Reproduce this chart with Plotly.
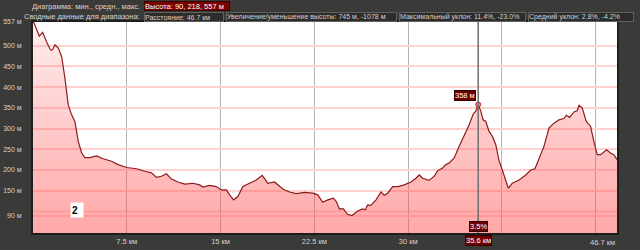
import plotly.graph_objects as go

# distance (km) and elevation (m)
dist_km = [0, 0.08, 0.50, 0.77, 1.09, 1.41, 1.57, 1.76, 2.02, 2.29,
           2.55, 2.82, 3.09, 3.35, 3.62, 3.89, 4.15, 4.55, 5.08, 5.61,
           6.28, 6.81, 7.48, 8.28, 8.94, 9.47, 9.87, 10.27, 10.67, 11.07,
           11.60, 11.77, 12.13, 12.53, 12.79, 13.33, 13.59, 14.13, 14.66, 15.06,
           15.46, 15.72, 16.04, 16.38, 16.78, 17.32, 17.85, 18.33, 18.78, 19.31,
           19.98, 20.51, 21.05, 21.71, 22.37, 22.77, 23.17, 23.57, 24.02, 24.26,
           24.50, 24.82, 25.16, 25.51, 25.96, 26.36, 26.58, 26.76, 27.03, 27.43,
           27.83, 28.09, 28.36, 28.76, 29.16, 29.69, 30.22, 30.62, 30.89, 31.15,
           31.68, 32.08, 32.35, 32.75, 33.02, 33.28, 33.68, 34.08, 34.48, 34.88,
           35.20, 35.41, 35.60, 35.81, 35.99, 36.21, 36.47, 36.74, 37.01, 37.27,
           37.53, 37.81, 38.01, 38.33, 38.87, 39.40, 39.80, 40.14, 40.46, 40.86,
           41.26, 41.66, 42.06, 42.46, 42.64, 42.91, 43.26, 43.52, 43.66, 43.92,
           44.24, 44.59, 44.85, 45.12, 45.39, 45.87, 46.18, 46.45, 46.70]
elev_m = [557, 555, 523, 532, 509, 489, 490, 502, 494, 474,
          422, 357, 333, 317, 269, 241, 230, 230, 234, 227,
          221, 213, 206, 203, 197, 193, 182, 185, 191, 178,
          171, 170, 166, 167, 168, 164, 159, 163, 160, 152,
          152, 140, 128, 136, 160, 168, 176, 187, 168, 171,
          154, 147, 143, 146, 144, 140, 122, 128, 132, 124,
          106, 106, 93, 90, 101, 106, 104, 116, 115, 128,
          147, 139, 144, 160, 160, 164, 171, 180, 188, 180,
          175, 185, 198, 205, 213, 217, 229, 257, 281, 309,
          335, 342, 358, 342, 321, 317, 293, 281, 261, 222,
          200, 172, 156, 168, 176, 188, 200, 203, 229, 257,
          301, 313, 321, 324, 332, 327, 340, 343, 356, 350,
          317, 305, 269, 237, 237, 249, 241, 237, 225]

y_ticks = [90, 150, 200, 250, 300, 350, 400, 450, 500, 557]
y_ticktext = ["90 м", "150 м", "200 м", "250 м", "300 м", "350 м", "400 м", "450 м", "500 м", "557 м"]
x_ticks = [7.5, 15, 22.5, 30, 37.5, 45]
x_ticktext = ["7.5 км", "15 км", "22.5 км", "30 км", "", ""]
total_km = 46.7
cursor_km = 35.6
cursor_elev = 358
cursor_grade = "3.5%"
extra_grid = [100]

header1_label = "Диаграмма: мин., средн., макс."
header1_value = "Высота: 90, 218, 557 м"
header2_label = "Сводные данные для диапазона:"
header2_boxes = ["Расстояние: 46.7 км",
                 "Увеличение/уменьшение высоты: 745 м, -1078 м",
                 "Максимальный уклон: 11.4%, -23.0%",
                 "Средний уклон: 2.8%, -4.2%"]

FONT = "Liberation Sans"
BG = "#3a3a38"
TXT = "#d8d0d0"

fig = go.Figure()
fig.add_trace(go.Scatter(
    x=dist_km, y=elev_m, mode="lines",
    line=dict(color="#8e1b1b", width=1.2),
    fill="tozeroy",
    fillgradient=dict(type="vertical", start=48, stop=557,
                      colorscale=[[0, "rgba(255,80,80,0.50)"], [1, "rgba(255,80,80,0.10)"]]),
    hoverinfo="skip", showlegend=False))
fig.add_trace(go.Scatter(
    x=[cursor_km], y=[cursor_elev], mode="markers",
    marker=dict(size=5, color="#ff9090", line=dict(color="#c02020", width=1)),
    hoverinfo="skip", showlegend=False))

shapes = []
for g in extra_grid:
    shapes.append(dict(type="line", xref="paper", x0=0, x1=1, yref="y", y0=g, y1=g,
                       line=dict(color="#ffd2d2", width=1.5), layer="below"))
shapes.append(dict(type="line", xref="x", x0=cursor_km, x1=cursor_km, yref="paper", y0=0, y1=1,
                   line=dict(color="#6e6e6e", width=1.5), layer="above"))
fig.update_layout(shapes=shapes)

ann = []
ann.append(dict(x=3.55, y=104, xref="x", yref="y", text="<b>2</b>", showarrow=False,
                font=dict(family=FONT, size=10, color="#000"), bgcolor="#ffffff",
                width=10, height=12, align="left"))
ann.append(dict(x=cursor_km, y=cursor_elev, xref="x", yref="y", text=f"{cursor_elev} м",
                showarrow=False, xanchor="right", yanchor="bottom", xshift=-2, yshift=3,
                font=dict(family=FONT, size=7.5, color="#fff"), bgcolor="#700000",
                bordercolor="#300000", borderwidth=1, borderpad=0))
ann.append(dict(x=cursor_km, y=0, xref="x", yref="paper", text=cursor_grade,
                showarrow=False, xanchor="center", yanchor="bottom", yshift=1,
                font=dict(family=FONT, size=7.5, color="#fff"), bgcolor="#700000",
                bordercolor="#300000", borderwidth=1, borderpad=0))
ann.append(dict(x=cursor_km, y=0, xref="x", yref="paper", text=f"{cursor_km} км",
                showarrow=False, xanchor="center", yanchor="top", yshift=-2,
                font=dict(family=FONT, size=7.5, color="#fff"), bgcolor="#700000",
                bordercolor="#300000", borderwidth=1, borderpad=0))
ann.append(dict(x=total_km, y=0, xref="x", yref="paper", text=f"{total_km} км",
                showarrow=False, xanchor="right", yanchor="top", yshift=-3,
                font=dict(family=FONT, size=7.5, color=TXT)))

# header rows (paper coords: plot spans 22..233 px vertically, 33..617 horizontally)
def px_x(p):
    return (p - 33) / 584.0

def px_y(p):
    return (233 - p) / 211.0

ann.append(dict(x=px_x(142), y=px_y(6.5), xref="paper", yref="paper", text=header1_label,
                showarrow=False, xanchor="right", yanchor="middle",
                font=dict(family=FONT, size=7.5, color=TXT)))
ann.append(dict(x=px_x(144), y=px_y(6.5), xref="paper", yref="paper", text=header1_value,
                showarrow=False, xanchor="left", yanchor="middle", width=84, height=8, align="left",
                font=dict(family=FONT, size=7.5, color="#fff"), bgcolor="#7a0000",
                bordercolor="#3a0000", borderwidth=1, borderpad=0))
ann.append(dict(x=px_x(142), y=px_y(16.5), xref="paper", yref="paper", text=header2_label,
                showarrow=False, xanchor="right", yanchor="middle",
                font=dict(family=FONT, size=7.5, color=TXT)))
box_edges = [(144, 224), (226, 397), (399, 526), (528, 634)]
for (a, b), t in zip(box_edges, header2_boxes):
    ann.append(dict(x=px_x(a), y=px_y(16.5), xref="paper", yref="paper", text=t,
                    showarrow=False, xanchor="left", yanchor="middle", width=b - a - 2, height=8,
                    align="left", font=dict(family=FONT, size=7, color=TXT), bgcolor="#2c2c2b",
                    bordercolor="#606060", borderwidth=1, borderpad=0))
fig.update_layout(annotations=ann)

fig.update_layout(
    width=640, height=250,
    margin=dict(l=33, r=23, t=22, b=17, autoexpand=False),
    paper_bgcolor=BG, plot_bgcolor="#ffffff",
    font=dict(family=FONT, size=7.5, color=TXT),
    xaxis=dict(range=[0, total_km], tickvals=x_ticks, ticktext=x_ticktext,
               showgrid=True, gridcolor="#b4b4b4", gridwidth=1, automargin=False,
               showline=True, linecolor="#1e1e1e", linewidth=2, mirror=True,
               zeroline=False, ticks="", tickfont=dict(size=7.5, color=TXT, family=FONT)),
    yaxis=dict(range=[48, 557], tickvals=y_ticks, ticktext=y_ticktext, automargin=False,
               showgrid=True, gridcolor="#ffd2d2", gridwidth=1.5,
               showline=True, linecolor="#1e1e1e", linewidth=2, mirror=True,
               zeroline=False, ticks="", ticklabelstandoff=8,
               tickfont=dict(size=7, color=TXT, family=FONT)),
)

fig.write_html("out.html")
